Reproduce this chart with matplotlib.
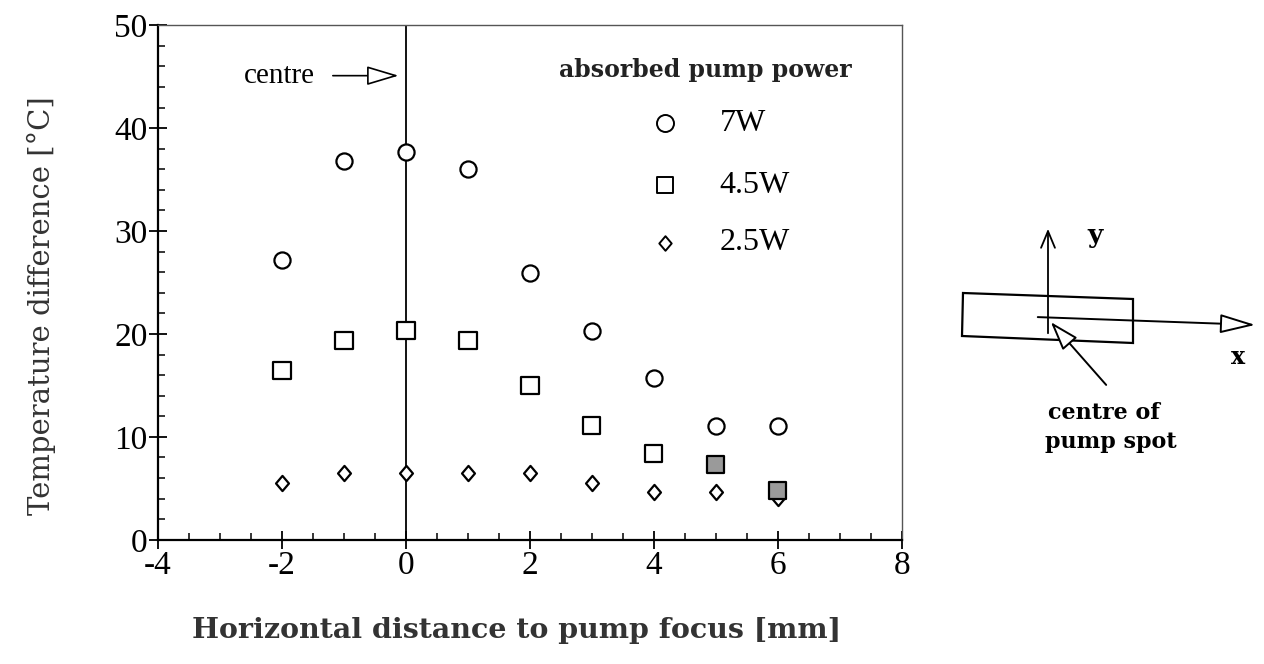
import matplotlib
matplotlib.use("Agg")
import matplotlib.pyplot as plt
from matplotlib.path import Path
from matplotlib.patches import Polygon, FancyArrowPatch
from matplotlib.ticker import MultipleLocator

# ---- data ----
x_pos = [-2, -1, 0, 1, 2, 3, 4, 5, 6]
temp_7w = [27.2, 36.8, 37.7, 36.0, 25.9, 20.3, 15.7, 11.1, 11.1]
temp_45w = [16.5, 19.4, 20.3, 19.4, 15.0, 11.1, 8.4, 7.3, 4.8]
temp_25w = [5.5, 6.5, 6.5, 6.5, 6.5, 5.5, 4.6, 4.6, 4.1]
series_labels = ["7W", "4.5W", "2.5W"]
xticks = [-4, -2, 0, 2, 4, 6, 8]
yticks = [0, 10, 20, 30, 40, 50]

serif = ["Liberation Serif", "DejaVu Serif"]
plt.rcParams["font.family"] = serif

fig = plt.figure(figsize=(12.64, 6.64), dpi=100)
ax = fig.add_axes([0.125, 0.187, 0.5886, 0.775])

diamond = Path([(0, 1), (0.85, 0), (0, -1), (-0.85, 0), (0, 1)],
               [Path.MOVETO, Path.LINETO, Path.LINETO, Path.LINETO, Path.CLOSEPOLY])

sq_face = ["white"] * 7 + ["#9a9a9a"] * 2
ax.scatter(x_pos, temp_7w, s=135, marker="o", facecolors="white",
           edgecolors="black", linewidths=1.6, zorder=4)
ax.scatter(x_pos, temp_45w, s=150, marker="s", facecolors=sq_face,
           edgecolors="black", linewidths=1.6, zorder=4)
ax.scatter(x_pos, temp_25w, s=120, marker=diamond, facecolors="white",
           edgecolors="black", linewidths=1.6, zorder=3)

ax.axvline(0, color="black", lw=1.3, zorder=2)

ax.set_xlim(-4, 8)
ax.set_ylim(0, 50)
ax.set_xticks(xticks)
ax.set_yticks(yticks)
ax.set_xticklabels([str(t) for t in xticks])
ax.set_yticklabels([str(t) for t in yticks])
ax.xaxis.set_minor_locator(MultipleLocator(0.5))
ax.yaxis.set_minor_locator(MultipleLocator(2))
ax.tick_params(which="major", direction="inout", length=13, width=1.3,
               labelsize=24, pad=1)
ax.tick_params(which="minor", direction="in", length=5, width=1.1)
for side in ["left", "bottom"]:
    ax.spines[side].set_linewidth(1.6)
for side in ["top", "right"]:
    ax.spines[side].set_linewidth(1.0)
    ax.spines[side].set_color("#555555")

# legend (drawn in axes fraction)
leg_markers = ["o", "s", diamond]
leg_sizes = [150, 130, 110]
leg_rows = [0.810, 0.689, 0.577]
ax.text(0.735, 0.913, "absorbed pump power", transform=ax.transAxes,
        ha="center", va="center", fontsize=17, family="DejaVu Serif",
        weight="bold", color="#222222")
for mk, sz, ry, lab in zip(leg_markers, leg_sizes, leg_rows, series_labels):
    ax.scatter([0.681], [ry], transform=ax.transAxes, marker=mk, s=sz,
               facecolors="white", edgecolors="black", linewidths=1.4,
               clip_on=False, zorder=5)
    ax.text(0.755, ry, lab, transform=ax.transAxes, ha="left", va="center",
            fontsize=23)

# centre annotation
ax.text(-2.05, 45.1, "centre", ha="center", va="center", fontsize=21)
ax.add_patch(FancyArrowPatch((-1.18, 45.1), (-0.12, 45.1),
                             arrowstyle="-|>,head_length=20,head_width=6",
                             fc="white", ec="black", lw=1.2,
                             mutation_scale=1, shrinkA=0, shrinkB=0,
                             zorder=5))

# axis labels
fig.text(0.033, 0.539, "Temperature difference [°C]", rotation=90,
         ha="center", va="center", fontsize=21, family="DejaVu Serif",
         color="#333333")
fig.text(0.409, 0.051, "Horizontal distance to pump focus [mm]",
         ha="center", va="center", fontsize=20.5, family="DejaVu Serif",
         color="#333333", weight="bold")

# schematic on the right (figure pixel coordinates)
ov = fig.add_axes([0, 0, 1, 1], zorder=5)
ov.set_xlim(0, 1264)
ov.set_ylim(664, 0)
ov.axis("off")
ov.patch.set_alpha(0)
ov.add_patch(Polygon([(963, 293), (1133, 299), (1133, 343), (962, 336)],
                     closed=True, fill=False, ec="black", lw=1.6))
ov.add_patch(FancyArrowPatch((1048, 336), (1048, 226),
                             arrowstyle="->,head_length=12,head_width=5",
                             color="black", lw=1.3, mutation_scale=1))
ov.add_patch(FancyArrowPatch((1035, 317), (1258, 325),
                             arrowstyle="-|>,head_length=22,head_width=6",
                             fc="white", ec="black", lw=1.4, mutation_scale=1))
ov.add_patch(FancyArrowPatch((1108, 387), (1049, 320),
                             arrowstyle="-|>,head_length=18,head_width=6",
                             fc="white", ec="black", lw=1.4, mutation_scale=1))
ov.text(1095, 236, "y", ha="center", va="center", fontsize=19,
        family="DejaVu Serif", weight="bold")
ov.text(1238, 357, "x", ha="center", va="center", fontsize=17,
        family="DejaVu Serif", weight="bold")
ov.text(1104, 413, "centre of", ha="center", va="center",
        fontsize=16, family="DejaVu Serif", weight="bold")
ov.text(1111, 442, "pump spot", ha="center", va="center",
        fontsize=16, family="DejaVu Serif", weight="bold")

fig.savefig("out.png", dpi=100, facecolor="white")
